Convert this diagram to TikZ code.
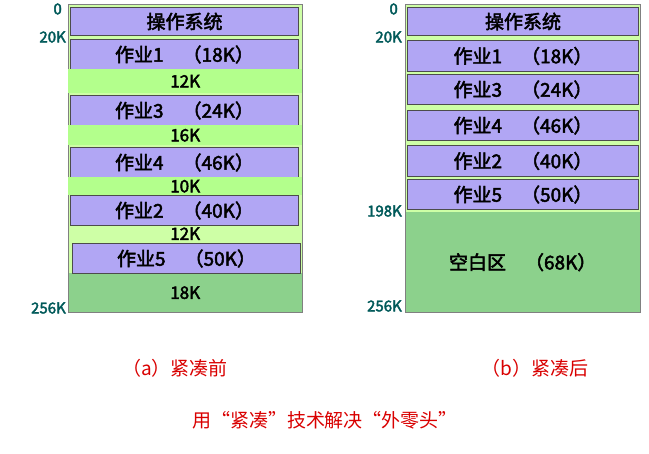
\documentclass[tikz,border=0pt]{standalone}
\usepackage{fontspec}
\setmainfont{Noto Sans CJK SC}[BoldFont={Noto Sans CJK SC},BoldFeatures={FakeBold=2.5}]
\begin{document}
\begin{tikzpicture}[x=1pt,y=-1pt,
  job/.style={draw=black!70,fill=violet!25!blue!35!white,line width=1pt,minimum width=228pt,anchor=north west,inner sep=0pt,font=\bfseries\fontsize{19}{19}\selectfont},
  gap/.style={fill=green!55!lime!45!white,minimum width=234pt,anchor=north west,inner sep=0pt,font=\bfseries\fontsize{17}{17}\selectfont},
  addr/.style={text=teal!70!black,font=\bfseries\fontsize{15}{15}\selectfont,anchor=east,inner sep=0pt},
  captext/.style={text=red!85!black,font=\fontsize{19}{19}\selectfont}]
\useasboundingbox (0,0) rectangle (649,454);
% left column
\fill[green!40!lime!35!white] (68,4) rectangle (302,273);
\fill[green!60!black!45!white] (68,273) rectangle (302,312);
\draw[gray,line width=0.8pt] (68,4) rectangle (302,312);
\node[job,minimum height=28pt] (os1) at (70,7) {操作系统};
\node[job,minimum height=30pt] (j1a) at (70,39) {作业1\quad （18K）};
\node[gap,minimum height=24pt] (g1) at (68,69) {12K};
\node[job,minimum height=30pt] (j3a) at (70,95) {作业3\quad （24K）};
\node[gap,minimum height=20pt] (g2) at (68,125) {16K};
\node[job,minimum height=30pt] (j4a) at (70,147) {作业4\quad （46K）};
\node[gap,minimum height=18pt] (g3) at (68,177) {10K};
\node[job,minimum height=30pt] (j2a) at (70,195) {作业2\quad （40K）};
\node[gap,minimum height=17pt,fill=none] (g4) at (68,225) {12K};
\node[job,minimum height=30pt] (j5a) at (72,243) {作业5\quad （50K）};
\node[gap,minimum height=39pt,fill=none] (g5) at (68,273) {18K};
\node[addr] (a0) at (62,9) {0};
\node[addr] (a20) at (66,37) {20K};
\node[addr] (a256) at (66,308) {256K};
% right column
\fill[green!40!lime!35!white] (405,4) rectangle (640,212);
\fill[green!60!black!45!white] (405,212) rectangle (640,312);
\draw[gray,line width=0.8pt] (405,4) rectangle (640,312);
\node[job,minimum height=28pt,minimum width=231pt] (os2) at (407,7) {操作系统};
\node[job,minimum height=31pt,minimum width=231pt] (j1b) at (407,40) {作业1\quad （18K）};
\node[job,minimum height=30pt,minimum width=231pt] (j3b) at (407,74) {作业3\quad （24K）};
\node[job,minimum height=30pt,minimum width=231pt] (j4b) at (407,110) {作业4\quad （46K）};
\node[job,minimum height=31pt,minimum width=231pt] (j2b) at (407,145) {作业2\quad （40K）};
\node[job,minimum height=30pt,minimum width=231pt] (j5b) at (407,179) {作业5\quad （50K）};
\node[gap,minimum height=100pt,minimum width=235pt,fill=none,font=\bfseries\fontsize{19}{19}\selectfont] (free) at (405,212) {空白区\quad （68K）};
\node[addr] (b0) at (398,9) {0};
\node[addr] (b20) at (402,37) {20K};
\node[addr] (b198) at (402,211) {198K};
\node[addr] (b256) at (402,306) {256K};
% captions
\node[captext] (ca) at (175,368) {（a）紧凑前};
\node[captext] (cb) at (535,368) {（b）紧凑后};
\node[captext] (title) at (325,420) {用“紧凑”技术解决“外零头”};
\end{tikzpicture}
\end{document}
